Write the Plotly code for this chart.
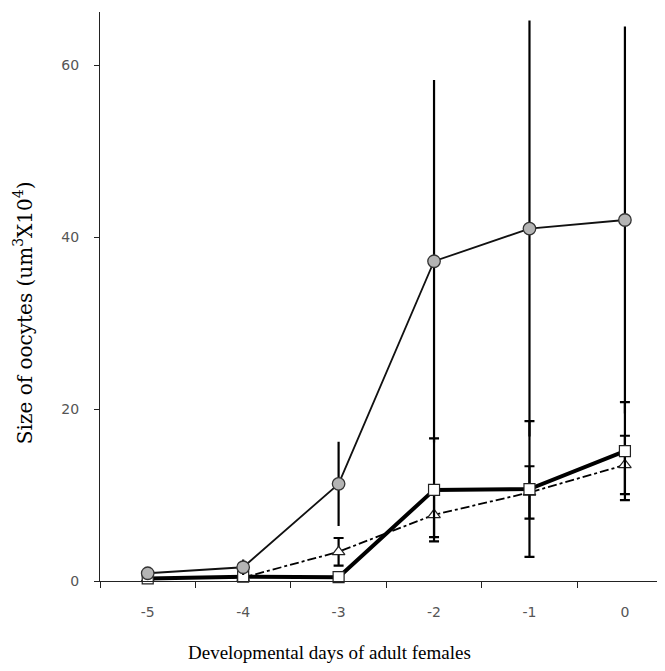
import plotly.graph_objects as go

days = [-5, -4, -3, -2, -1, 0]

circle_vals = [0.9, 1.6, 11.3, 37.2, 41.0, 42.0]
circle_err = [0.5, 0.9, 4.9, 21.1, 24.2, 22.5]

square_vals = [0.3, 0.5, 0.45, 10.6, 10.7, 15.1]
square_err = [0.3, 0.3, 0.2, 6.0, 7.9, 5.7]

triangle_vals = [0.3, 0.4, 3.4, 7.7, 10.3, 13.5]
triangle_err = [0.3, 0.3, 1.6, 2.6, 3.05, 3.4]

x_ticks = [-5, -4, -3, -2, -1, 0]
y_ticks = [0, 20, 40, 60]

x_title = "Developmental days of adult females"
y_title = "Size of oocytes (um<sup>3</sup>X10<sup>4</sup>)"

fig = go.Figure()

fig.add_trace(go.Scatter(
    x=days, y=triangle_vals, mode="lines+markers",
    line=dict(color="black", width=1.8, dash="dashdot"),
    marker=dict(symbol="triangle-up", size=11, color="white", line=dict(color="#222", width=1.2)),
    error_y=dict(type="data", array=triangle_err, color="black", thickness=2.2, width=5),
    cliponaxis=False, showlegend=False,
))
fig.add_trace(go.Scatter(
    x=days, y=square_vals, mode="lines+markers",
    line=dict(color="black", width=4),
    marker=dict(symbol="square", size=11, color="white", line=dict(color="#222", width=1.2)),
    error_y=dict(type="data", array=square_err, color="black", thickness=2.2, width=5),
    cliponaxis=False, showlegend=False,
))
fig.add_trace(go.Scatter(
    x=days, y=circle_vals, mode="lines+markers",
    line=dict(color="#111", width=1.8),
    marker=dict(symbol="circle", size=12.5, color="#b4b4b4", line=dict(color="#333", width=1.3)),
    error_y=dict(type="data", array=circle_err, color="black", thickness=2.2, width=0),
    cliponaxis=False, showlegend=False,
))

fig.add_annotation(
    text=x_title, xref="paper", yref="paper", x=0.407, y=-0.1265,
    xanchor="center", yanchor="middle", showarrow=False,
    font=dict(family="Liberation Serif, Times New Roman, serif", size=19, color="black"),
)
fig.add_annotation(
    text=y_title, xref="paper", yref="paper", x=-0.136, y=0.471,
    xanchor="center", yanchor="middle", showarrow=False, textangle=-90,
    font=dict(family="DejaVu Serif, serif", size=20, color="black"),
)

tick_font = dict(family="DejaVu Sans, sans-serif", size=14, color="#555")

fig.update_layout(
    width=665, height=671,
    paper_bgcolor="white", plot_bgcolor="white",
    margin=dict(l=92, r=8, t=4, b=98),
    xaxis=dict(
        range=[-5.5, 0.42], tickmode="array", tickvals=x_ticks,
        ticktext=[str(v) for v in x_ticks],
        showgrid=False, zeroline=False, showline=True, linecolor="#222", linewidth=1,
        ticks="", tickfont=tick_font,
        ticklabelstandoff=18,
        minor=dict(tickvals=[-5.5, -4.5, -3.5, -2.5, -1.5, -0.5, 0.5], ticks="outside",
                   ticklen=6, tickcolor="#222", tickwidth=1),
    ),
    yaxis=dict(
        range=[0, 66.2], tickmode="array", tickvals=y_ticks,
        ticktext=[str(v) for v in y_ticks],
        showgrid=False, zeroline=False, showline=True, linecolor="#222", linewidth=1,
        ticks="outside", ticklen=5, tickcolor="#222",
        tickfont=tick_font,
        ticklabelstandoff=12,
    ),
)

fig.write_html("out.html")
